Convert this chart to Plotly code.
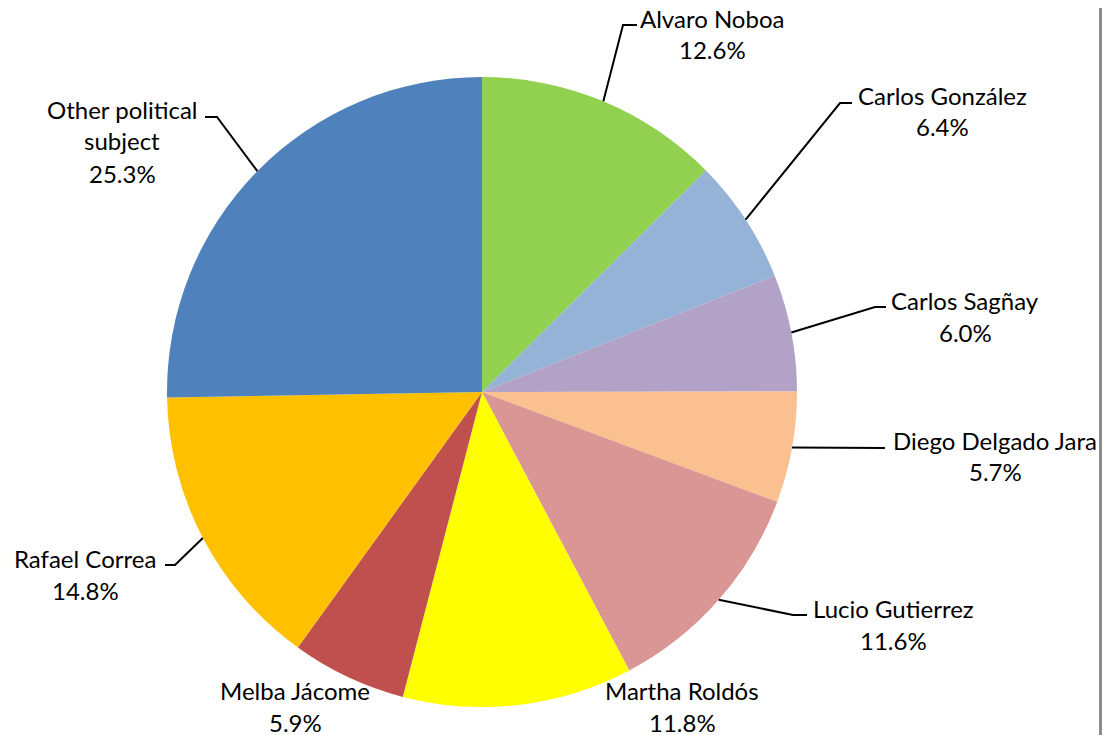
import math
import plotly.graph_objects as go

# ---- data ----
candidates = ["Alvaro Noboa", "Carlos González", "Carlos Sagñay", "Diego Delgado Jara",
              "Lucio Gutierrez", "Martha Roldós", "Melba Jácome", "Rafael Correa",
              "Other political subject"]
shares = [12.6, 6.4, 6.0, 5.7, 11.6, 11.8, 5.9, 14.8, 25.3]
label_lines = [["Alvaro Noboa"], ["Carlos González"], ["Carlos Sagñay"], ["Diego Delgado Jara"],
               ["Lucio Gutierrez"], ["Martha Roldós"], ["Melba Jácome"], ["Rafael Correa"],
               ["Other political", "subject"]]

# ---- style / layout ----
colors = ["#92D050", "#95B3D7", "#B3A2C7", "#FAC090", "#D99694",
          "#FFFF00", "#C0504D", "#FFC000", "#4F81BD"]
OFF = 8                     # page body margin of the browser
W, H = 1110 - 2 * OFF, 735 - OFF
CX, CY, R = 482, 392, 315   # pie centre and radius in window pixels
FONT = "Lato"
FS = 24
LINE_H = 32
# label block centres (window pixels) and leader-line elbow/end points per slice
label_pos = [(712, 34), (942, 111), (965, 316), (995, 456), (893, 624),
             (682, 706), (295, 706), (85, 574), (122, 141)]
leader = [[(623, 25), (637, 25)], [(840, 103), (852, 103)], [(875, 307), (886, 307)],
          [(885, 448)], [(793, 615), (807, 615)], None, None,
          [(175, 565), (165, 565)], [(217, 117), (205, 117)]]
BORDER_X = 1100.5


def px(x):
    return (x - OFF) / W


def py(y):
    return 1 - (y - OFF) / H


fig = go.Figure(go.Pie(
    labels=candidates,
    values=shares,
    sort=False,
    direction="clockwise",
    rotation=0,
    marker=dict(colors=colors, line=dict(width=0)),
    textinfo="none",
    hoverinfo="label+percent",
    showlegend=False,
    domain=dict(x=[px(CX - R), px(CX + R)], y=[py(CY + R), py(CY - R)]),
))

total = sum(shares)
shapes = []
annotations = []
cum = 0.0
for i, v in enumerate(shares):
    mid = (cum + v / 2) / total * 2 * math.pi
    cum += v
    sx = CX + R * math.sin(mid)
    sy = CY - R * math.cos(mid)
    if leader[i]:
        pts = [(sx, sy)] + leader[i]
        path = "M " + " L ".join(f"{px(x):.5f},{py(y):.5f}" for x, y in pts)
        shapes.append(dict(type="path", path=path, xref="paper", yref="paper",
                           line=dict(color="black", width=2)))
    lines = label_lines[i] + [f"{v:.1f}%"]
    lx, ly = label_pos[i]
    n = len(lines)
    for k, t in enumerate(lines):
        yk = ly + (k - (n - 1) / 2) * LINE_H
        annotations.append(dict(text=t, x=px(lx), y=py(yk), xref="paper", yref="paper",
                                showarrow=False, xanchor="center", yanchor="middle",
                                font=dict(family=FONT, size=FS, color="black")))

# right border of the chart area
shapes.append(dict(type="path", xref="paper", yref="paper",
                   path=f"M {px(BORDER_X):.5f},0 L {px(BORDER_X):.5f},1",
                   line=dict(color="#8C8C8C", width=3)))

fig.update_layout(
    width=W, height=H,
    margin=dict(l=0, r=0, t=0, b=0),
    paper_bgcolor="white",
    plot_bgcolor="white",
    shapes=shapes,
    annotations=annotations,
)

fig.write_html("out.html")
